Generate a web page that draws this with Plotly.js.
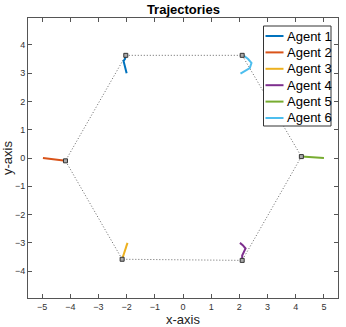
<!DOCTYPE html>
<html>
<head>
<meta charset="utf-8">
<script src="https://cdn.plot.ly/plotly-3.0.1.min.js"></script>
<style>
  html, body { margin: 0; padding: 0; background: #fff; }
  #chart { width: 346px; height: 327px; }
</style>
</head>
<body>
<div id="chart"></div>
<script>
// agent trajectories (start -> end)
const agentNames = ["Agent 1", "Agent 2", "Agent 3", "Agent 4", "Agent 5", "Agent 6"];
const agentColors = ["#0072BD", "#D95319", "#EDB120", "#7E2F8E", "#77AC30", "#4DBEEE"];

const agent1X = [-2.0, -2.05, -2.11, -2.06, -2.03];
const agent1Y = [3.0, 3.22, 3.43, 3.5, 3.63];
const agent2X = [-4.97, -4.6, -4.35, -4.17];
const agent2Y = [0.0, -0.05, -0.09, -0.1];
const agent3X = [-1.97, -2.08, -2.16];
const agent3Y = [-3.0, -3.3, -3.58];
const agent4X = [2.02, 2.12, 2.22, 2.15, 2.1, 2.1];
const agent4Y = [-3.0, -3.08, -3.2, -3.32, -3.45, -3.62];
const agent5X = [5.0, 4.6, 4.2];
const agent5Y = [0.0, 0.03, 0.05];
const agent6X = [2.04, 2.2, 2.37, 2.43, 2.31, 2.19, 2.1];
const agent6Y = [2.98, 3.08, 3.18, 3.36, 3.5, 3.59, 3.63];

const allX = [agent1X, agent2X, agent3X, agent4X, agent5X, agent6X];
const allY = [agent1Y, agent2Y, agent3Y, agent4Y, agent5Y, agent6Y];

// formation links between final positions (by agent index)
const linkOrder = [0, 5, 4, 3, 2, 1, 0];

const xTicks = [-5, -4, -3, -2, -1, 0, 1, 2, 3, 4, 5];
const yTicks = [-4, -3, -2, -1, 0, 1, 2, 3, 4];

const W = 346, H = 327;
const M = { l: 28, r: 8, t: 18, b: 29 };

const last = arr => arr[arr.length - 1];
const endX = allX.map(last);
const endY = allY.map(last);

const traces = [];

// dotted formation outline
traces.push({
    x: linkOrder.map(i => endX[i]),
    y: linkOrder.map(i => endY[i]),
    mode: "lines",
    line: { color: "#666", width: 1, dash: "1px,2px" },
    showlegend: false,
    hoverinfo: "skip"
});

agentNames.forEach(function(name, i) {
    traces.push({
        x: allX[i],
        y: allY[i],
        mode: "lines",
        name: name,
        line: { color: agentColors[i], width: 2 },
        showlegend: false
    });
});

// final positions
traces.push({
    x: endX,
    y: endY,
    mode: "markers",
    marker: { symbol: "square", size: 4, color: "#aaa", line: { color: "#333", width: 1 } },
    showlegend: false,
    hoverinfo: "skip"
});

// legend box drawn by hand, MATLAB style (short line samples)
const px = v => (v - M.l) / (W - M.l - M.r);
const py = v => (H - M.b - v) / (H - M.t - M.b);
const legLeft = 263.5, legRight = 331, legTop = 26, legBottom = 126;
const rowTop = 36, rowStep = 16.4;

const shapes = [{
    type: "rect", xref: "paper", yref: "paper", layer: "above",
    x0: px(legLeft), x1: px(legRight), y0: py(legBottom), y1: py(legTop),
    fillcolor: "#fff", line: { color: "#333", width: 1 }
}];
const annotations = [];
agentNames.forEach(function(name, i) {
    const yy = py(rowTop + i * rowStep);
    shapes.push({
        type: "line", xref: "paper", yref: "paper", layer: "above",
        x0: px(265.5), x1: px(283.5), y0: yy, y1: yy,
        line: { color: agentColors[i], width: 2 }
    });
    annotations.push({
        xref: "paper", yref: "paper", x: px(284.5), y: yy,
        xanchor: "left", yanchor: "middle", showarrow: false,
        text: name, font: { size: 13, color: "#000" }
    });
});

const axisCommon = {
    showline: true,
    linecolor: "#555",
    linewidth: 1,
    mirror: "ticks",
    ticks: "inside",
    ticklen: 4,
    tickcolor: "#555",
    showgrid: false,
    zeroline: false,
    tickfont: { family: "Liberation Sans, Arial, sans-serif", size: 9, color: "#333" }
};

const layout = {
    width: W,
    height: H,
    margin: M,
    paper_bgcolor: "#fff",
    plot_bgcolor: "#fff",
    font: { family: "Liberation Sans, Arial, sans-serif", color: "#000" },
    title: {
        text: "<b>Trajectories</b>",
        font: { size: 13, color: "#000" },
        x: 0.53, xanchor: "center",
        y: 0.972, yref: "container", yanchor: "middle"
    },
    xaxis: Object.assign({}, axisCommon, {
        range: [-5.5, 5.5],
        tickvals: xTicks,
        title: { text: "x-axis", font: { size: 13, color: "#222" }, standoff: 4 }
    }),
    yaxis: Object.assign({}, axisCommon, {
        range: [-4.95, 4.95],
        tickvals: yTicks,
        title: { text: "y-axis", font: { size: 13, color: "#222" }, standoff: 6 }
    }),
    shapes: shapes,
    annotations: annotations,
    showlegend: false
};

Plotly.newPlot("chart", traces, layout, { displayModeBar: false, staticPlot: true });
</script>
</body>
</html>
